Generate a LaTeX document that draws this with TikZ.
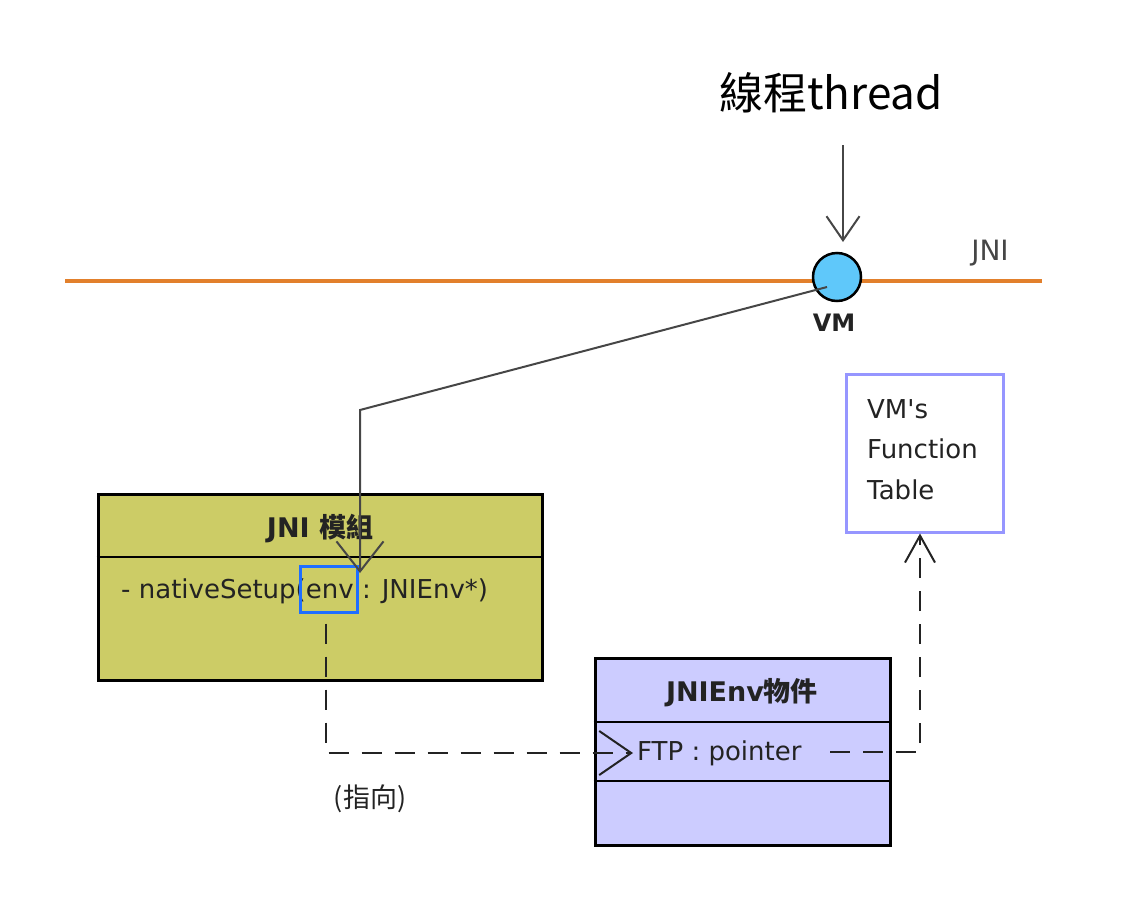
\documentclass[tikz,border=0pt]{standalone}
\usepackage{fontspec}
\setmainfont{DejaVu Sans}
\newfontfamily\cjk{Noto Sans CJK TC}
\usetikzlibrary{arrows.meta}
\definecolor{jniorange}{RGB}{226,128,44}
\definecolor{vmblue}{RGB}{95,200,250}
\definecolor{olive}{RGB}{204,204,102}
\definecolor{lavender}{RGB}{204,204,255}
\definecolor{ftborder}{RGB}{150,150,255}
\definecolor{envblue}{RGB}{30,110,255}
\definecolor{linegray}{RGB}{70,70,70}
\definecolor{txt}{RGB}{35,35,35}
\tikzset{
  umlbox/.style={draw=black, line width=3pt, rectangle, inner sep=0pt},
  conn/.style={draw=linegray, line width=2pt},
  dashconn/.style={draw=txt, line width=2pt, dash pattern=on 20pt off 13pt},
  lbl/.style={text=txt, inner sep=0pt, font=\fontsize{26}{30}\selectfont},
  blbl/.style={text=txt, inner sep=0pt, font=\fontsize{27}{30}\selectfont\bfseries},
}
\begin{document}
\begin{tikzpicture}[x=1pt,y=-1pt]
\useasboundingbox (0,0) rectangle (1130,900);
% title
\node[inner sep=0pt, font=\cjk\fontsize{44}{50}\selectfont] (title) at (831,93) {線程thread};
% JNI line
\coordinate (jl) at (65,281);
\coordinate (jr) at (1042,281);
\draw[draw=jniorange, line width=4pt] (jl) -- (jr);
\node[lbl, text=linegray, font=\fontsize{28}{30}\selectfont] (jnilbl) at (990,253) {JNI};
% VM circle
\node[circle, draw=black, line width=2.5pt, fill=vmblue, minimum size=48pt, inner sep=0pt] (vm) at (837,277) {};
\node[blbl, font=\fontsize{24}{28}\selectfont\bfseries] (vmlbl) at (834,323) {VM};
% thread arrow
\coordinate (ttop) at (843,145);
\coordinate (ttip) at (843,242);
\draw[conn, -{Straight Barb[length=24pt, width=33pt, line width=2pt]}] (ttop) -- (ttip);
% JNI module box
\node[umlbox, fill=olive, minimum width=444pt, minimum height=186pt] (jni) at (320,587) {};
\draw[line width=2pt] (jni.west |- 0,557) -- (jni.east |- 0,557);
\node[blbl] (jnititle) at (320,529) {JNI {\cjk\bfseries 模組}};
\node[lbl, anchor=west] (member) at (121,591) {- nativeSetup(env : JNIEnv*)};
\node[draw=envblue, line width=3pt, minimum width=57pt, minimum height=46pt, inner sep=0pt] (env) at (328.5,589) {};
% VM -> env connector
\coordinate (vmin) at (827,287);
\coordinate (bend) at (360,410);
\coordinate (envtip) at (360,573);
\draw[conn, -{Straight Barb[length=30pt, width=47pt, line width=2pt]}] (vmin) -- (bend) -- (envtip);
% Function table
\node[draw=ftborder, line width=3pt, fill=white, minimum width=157pt, minimum height=158pt] (ft) at (924.5,453) {};
\node[lbl, anchor=north west, align=left, font=\fontsize{26}{40.5}\selectfont] (fttext) at (867,399) {VM\textquotesingle s\\Function\\Table};
% JNIEnv object box
\node[umlbox, fill=lavender, minimum width=295pt, minimum height=187pt] (jenv) at (742.5,751.5) {};
\draw[line width=2pt] (jenv.west |- 0,722) -- (jenv.east |- 0,722);
\draw[line width=2pt] (jenv.west |- 0,781) -- (jenv.east |- 0,781);
\node[blbl] (jenvtitle) at (742,693) {JNIEnv{\cjk\bfseries 物件}};
\node[lbl, anchor=west] (ftp) at (637,753) {FTP : pointer};
% dashed: env -> FTP
\coordinate (dcorner) at (326,753);
\coordinate (ftptip) at (633,753);
\draw[dashconn, dash phase=-10pt, -{Straight Barb[length=32pt, width=44pt, line width=2pt]}] (env.south -| dcorner) -- (dcorner) -- (ftptip);
\node[lbl, font=\cjk\fontsize{27}{30}\selectfont] (zhixiang) at (370,799) {(指向)};
% dashed: FTP -> function table
\coordinate (fstart) at (830,752);
\coordinate (fcorner) at (920,752);
\draw[dashconn, -{Straight Barb[length=27pt, width=30pt, line width=2pt]}] (fstart) -- (fcorner) -- (fcorner |- ft.south);
\end{tikzpicture}
\end{document}
